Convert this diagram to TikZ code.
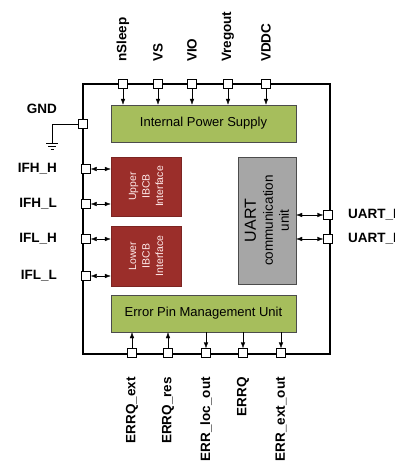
\documentclass[tikz,border=0pt]{standalone}
\usepackage{fontspec}
\setmainfont{Liberation Sans}
\usepackage{xcolor}
\usetikzlibrary{arrows.meta,positioning,calc}

\definecolor{supplygreen}{RGB}{166,190,92}
\definecolor{ibcbred}{RGB}{155,46,42}
\definecolor{uartgray}{RGB}{166,166,166}

\begin{document}
\begin{tikzpicture}[x=1pt, y=-1pt, font=\fontsize{13}{15}\selectfont,
    pin/.style={draw, fill=white, minimum size=9pt, inner sep=0pt},
    pinlabel/.style={font=\bfseries\fontsize{13.5}{15}\selectfont, inner sep=0pt},
    block/.style={draw=black!70, minimum width=185pt, minimum height=37pt, inner sep=0pt},
    sig/.style={-{Latex[length=6pt,width=4.5pt]}},
    bidir/.style={{Latex[length=6pt,width=4.5pt]}-{Latex[length=6pt,width=4.5pt]}}]
    \useasboundingbox (0,0) rectangle (395,461);
    % chip outline
    \draw[line width=1.3pt] (83,84) rectangle (330,354);
    % function blocks
    \node[block, fill=supplygreen] (power) at (203.5,123.5) {Internal Power Supply};
    \node[block, fill=supplygreen] (error) at (203.5,313.5) {Error Pin Management Unit};
    \node[draw=ibcbred!80!black, fill=ibcbred, minimum width=70pt, minimum height=59pt] (upper) at (146,186.5) {};
    \node[draw=ibcbred!80!black, fill=ibcbred, minimum width=70pt, minimum height=60pt] (lower) at (146,256) {};
    \node[draw=black!70, fill=uartgray, minimum width=58pt, minimum height=127pt] (uart) at (267,220.5) {};
    \node[rotate=90, align=center, text=red!8!white, font=\fontsize{10.5}{13.5}\selectfont] (uppertxt) at (upper) {Upper\\IBCB\\Interface};
    \node[rotate=90, align=center, text=red!8!white, font=\fontsize{10.5}{13.5}\selectfont] (lowertxt) at (lower) {Lower\\IBCB\\Interface};
    \node[rotate=90, align=center, font=\fontsize{13.5}{16}\selectfont] (uarttxt) at (uart) {{\fontsize{16}{18}\selectfont UART}\\[1pt]communication\\unit};
    % supply pins on top
    \foreach \x/\name in {123/nSleep, 158/VS, 192/VIO, 228/Vregout, 266/VDDC} {
        \node[pin] (p\name) at (\x,84) {};
        \node[pinlabel, rotate=90, anchor=west] (l\name) at (\x,62) {\name};
        \draw[sig] (p\name.south) -- (p\name.south |- power.north);
    }
    % ground pin
    \node[pin] (gnd) at (83,124) {};
    \node[pinlabel, anchor=east] (lgnd) at (57,109) {GND};
    \coordinate (gndtap) at (52,143);
    \draw (gnd.west) -- (gnd.west -| gndtap) -- (gndtap);
    \draw (gndtap) +(-6,0) -- +(6,0);
    \draw ($(gndtap)+(0,3)$) +(-4,0) -- +(4,0);
    \draw ($(gndtap)+(0,6)$) +(-1.5,0) -- +(1.5,0);
    % IBCB pins on the left
    \foreach \y/\id/\name/\blk in {169/fhh/IFH\_H/upper, 204/fhl/IFH\_L/upper, 239/flh/IFL\_H/lower, 276/fll/IFL\_L/lower} {
        \node[pin] (i\id) at (86,\y) {};
        \node[pinlabel, anchor=east] (l\id) at (57,\y) {\name};
        \draw[bidir] (i\id.east) -- (i\id.east -| \blk.west);
    }
    % UART pins on the right
    \foreach \y/\id/\name in {215/uh/UART\_H, 239/ul/UART\_L} {
        \node[pin] (u\id) at (328,\y) {};
        \node[pinlabel, anchor=west] (l\id) at (348,\y) {\name};
        \draw[bidir] (u\id.west -| uart.east) -- (u\id.west);
    }
    % error pins at the bottom
    \foreach \x/\id/\name in {132/a/ERRQ\_ext, 168/b/ERRQ\_res} {
        \node[pin] (e\id) at (\x,353) {};
        \node[pinlabel, rotate=90, anchor=east] (l\id) at (\x,377) {\name};
        \draw[sig] (e\id.north) -- (e\id.north |- error.south);
    }
    \foreach \x/\id/\name in {206/c/ERR\_loc\_out, 243/d/ERRQ, 281/e/ERR\_ext\_out} {
        \node[pin] (e\id) at (\x,353) {};
        \node[pinlabel, rotate=90, anchor=east] (l\id) at (\x,377) {\name};
        \draw[sig] (e\id.north |- error.south) -- (e\id.north);
    }
\end{tikzpicture}
\end{document}
